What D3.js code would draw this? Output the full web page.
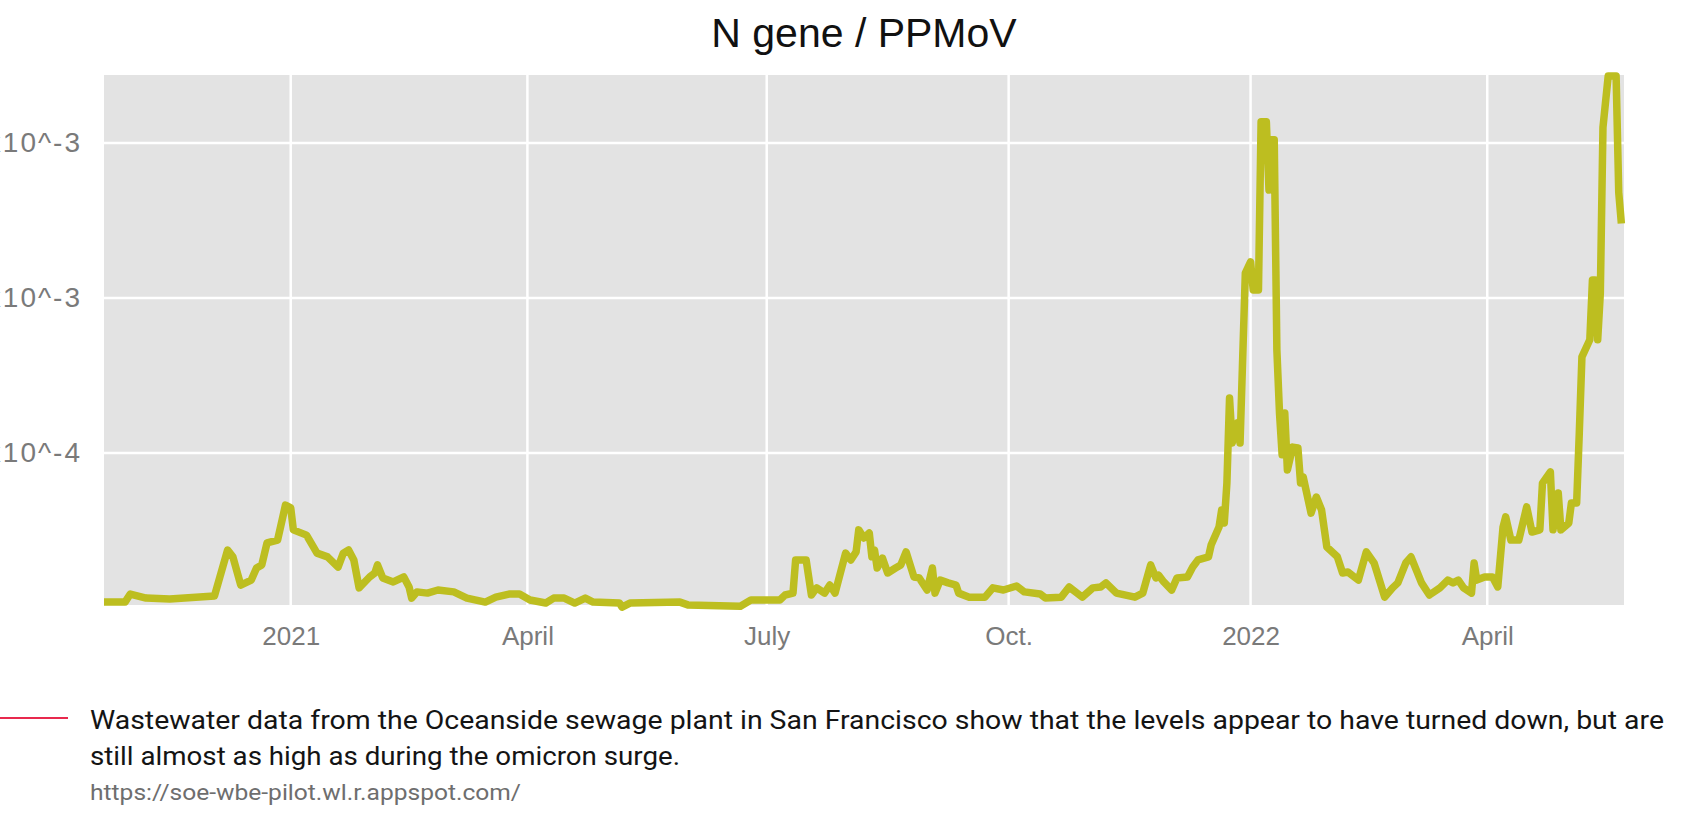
<!DOCTYPE html>
<html>
<head>
<meta charset="utf-8">
<script src="https://cdn.jsdelivr.net/npm/d3@7"></script>
<style>
  body { margin: 0; background: #fff; }
  svg { display: block; }
</style>
</head>
<body>
<div id="chart"></div>
<script>
// N gene / PPMoV, values in units of 1e-4
const dates = [
  '2020-10-22', '2020-10-30', '2020-11-01', '2020-11-07', '2020-11-16', '2020-12-03', '2020-12-08', '2020-12-10',
  '2020-12-13', '2020-12-17', '2020-12-19', '2020-12-21', '2020-12-23', '2020-12-27', '2020-12-29', '2020-12-30',
  '2021-01-01', '2021-01-02', '2021-01-07', '2021-01-11', '2021-01-15', '2021-01-19', '2021-01-21', '2021-01-23',
  '2021-01-25', '2021-01-27', '2021-01-31', '2021-02-02', '2021-02-03', '2021-02-05', '2021-02-09', '2021-02-13',
  '2021-02-15', '2021-02-16', '2021-02-18', '2021-02-22', '2021-02-26', '2021-03-04', '2021-03-09', '2021-03-16',
  '2021-03-20', '2021-03-25', '2021-03-29', '2021-04-02', '2021-04-08', '2021-04-11', '2021-04-15', '2021-04-19',
  '2021-04-23', '2021-04-26', '2021-05-06', '2021-05-07', '2021-05-10', '2021-05-29', '2021-06-01', '2021-06-21',
  '2021-06-25', '2021-07-06', '2021-07-08', '2021-07-11', '2021-07-12', '2021-07-16', '2021-07-18', '2021-07-20',
  '2021-07-23', '2021-07-25', '2021-07-27', '2021-07-31', '2021-08-02', '2021-08-04', '2021-08-05', '2021-08-07',
  '2021-08-09', '2021-08-10', '2021-08-11', '2021-08-12', '2021-08-14', '2021-08-16', '2021-08-19', '2021-08-21',
  '2021-08-23', '2021-08-26', '2021-08-28', '2021-08-31', '2021-09-02', '2021-09-03', '2021-09-05', '2021-09-08',
  '2021-09-11', '2021-09-12', '2021-09-16', '2021-09-22', '2021-09-25', '2021-09-29', '2021-10-04', '2021-10-07',
  '2021-10-13', '2021-10-15', '2021-10-21', '2021-10-24', '2021-10-29', '2021-11-02', '2021-11-05', '2021-11-07',
  '2021-11-11', '2021-11-18', '2021-11-21', '2021-11-24', '2021-11-26', '2021-11-27', '2021-11-29', '2021-12-02',
  '2021-12-04', '2021-12-08', '2021-12-10', '2021-12-12', '2021-12-16', '2021-12-17', '2021-12-20', '2021-12-21',
  '2021-12-22', '2021-12-23', '2021-12-24', '2021-12-25', '2021-12-27', '2021-12-28', '2021-12-30', '2022-01-01',
  '2022-01-02', '2022-01-04', '2022-01-05', '2022-01-07', '2022-01-08', '2022-01-09', '2022-01-10', '2022-01-11',
  '2022-01-12', '2022-01-13', '2022-01-14', '2022-01-15', '2022-01-17', '2022-01-19', '2022-01-20', '2022-01-21',
  '2022-01-24', '2022-01-26', '2022-01-28', '2022-01-30', '2022-02-03', '2022-02-05', '2022-02-07', '2022-02-11',
  '2022-02-14', '2022-02-17', '2022-02-21', '2022-02-24', '2022-02-26', '2022-03-01', '2022-03-03', '2022-03-05',
  '2022-03-07', '2022-03-10', '2022-03-14', '2022-03-17', '2022-03-19', '2022-03-21', '2022-03-23', '2022-03-26',
  '2022-03-27', '2022-03-28', '2022-03-31', '2022-04-03', '2022-04-05', '2022-04-07', '2022-04-08', '2022-04-10',
  '2022-04-13', '2022-04-16', '2022-04-18', '2022-04-21', '2022-04-22', '2022-04-25', '2022-04-26', '2022-04-28',
  '2022-04-29', '2022-05-02', '2022-05-03', '2022-05-05', '2022-05-06', '2022-05-07', '2022-05-10', '2022-05-11',
  '2022-05-12', '2022-05-13', '2022-05-14', '2022-05-15', '2022-05-17', '2022-05-20', '2022-05-21', '2022-05-22'
];
const values = [
  0.19, 0.19, 0.45, 0.32, 0.29, 0.39, 1.87, 1.65,
  0.74, 0.90, 1.29, 1.39, 2.10, 2.19, 2.94, 3.32,
  3.23, 2.52, 2.35, 1.77, 1.65, 1.32, 1.77, 1.87,
  1.55, 0.65, 1.00, 1.13, 1.39, 0.97, 0.84, 1.00,
  0.68, 0.32, 0.52, 0.48, 0.58, 0.52, 0.32, 0.19,
  0.35, 0.45, 0.45, 0.26, 0.16, 0.32, 0.32, 0.16,
  0.32, 0.19, 0.16, 0.03, 0.16, 0.19, 0.10, 0.06,
  0.26, 0.26, 0.42, 0.48, 1.55, 1.55, 0.42, 0.65,
  0.48, 0.74, 0.48, 1.77, 1.55, 1.81, 2.52, 2.26,
  2.42, 1.65, 1.87, 1.29, 1.61, 1.13, 1.29, 1.39,
  1.81, 1.00, 0.97, 0.58, 1.29, 0.48, 0.90, 0.81,
  0.74, 0.48, 0.35, 0.35, 0.65, 0.58, 0.71, 0.52,
  0.45, 0.32, 0.35, 0.68, 0.35, 0.65, 0.68, 0.81,
  0.48, 0.35, 0.48, 1.39, 0.97, 1.06, 0.84, 0.58,
  0.97, 1.00, 1.32, 1.55, 1.65, 2.03, 2.61, 3.16,
  2.74, 4.03, 6.77, 5.32, 5.97, 5.32, 10.8, 11.16,
  10.26, 10.26, 15.68, 15.68, 13.48, 15.1, 15.1, 8.32,
  6.29, 4.94, 6.29, 4.45, 5.19, 5.16, 4.03, 4.23,
  3.06, 3.58, 3.16, 1.97, 1.65, 1.13, 1.16, 0.90,
  1.81, 1.45, 0.35, 0.65, 0.81, 1.45, 1.65, 1.23,
  0.81, 0.42, 0.65, 0.90, 0.81, 0.90, 0.65, 0.48,
  1.45, 0.90, 1.00, 1.00, 0.68, 2.61, 2.94, 2.19,
  2.19, 3.26, 2.45, 2.52, 4.03, 4.39, 2.52, 3.71,
  2.52, 2.74, 3.39, 3.39, 5.65, 8.10, 8.65, 10.58,
  10.58, 8.65, 10.16, 15.5, 17.16, 17.16, 13.4, 12.4
];

const yTicks = [5, 10, 15];
const yTickLabels = ['5.0x10^-4', '1.0x10^-3', '1.5x10^-3'];
const xTicks = ['2021-01-01', '2021-04-01', '2021-07-01', '2021-10-01', '2022-01-01', '2022-04-01'];
const xTickLabels = ['2021', 'April', 'July', 'Oct.', '2022', 'April'];

const title = 'N gene / PPMoV';
const captionLines = [
  'Wastewater data from the Oceanside sewage plant in San Francisco show that the levels appear to have turned down, but are',
  'still almost as high as during the omicron surge.'
];
const source = 'https://soe-wbe-pilot.wl.r.appspot.com/';

const width = 1688;
const height = 832;
const panel = { left: 104, right: 1624, top: 75, bottom: 605 };

const parse = d3.timeParse('%Y-%m-%d');
const data = dates.map((d, i) => ({ date: parse(d), value: values[i] }));

const svg = d3.select('#chart').append('svg')
  .attr('width', width)
  .attr('height', height);

const x = d3.scaleTime()
  .domain([parse('2020-10-22'), parse('2022-05-23')])
  .range([panel.left, panel.right]);
const y = d3.scaleLinear()
  .domain([0.097, 17.19])
  .range([panel.bottom, panel.top]);

// panel background
svg.append('rect')
  .attr('x', panel.left)
  .attr('y', panel.top)
  .attr('width', panel.right - panel.left)
  .attr('height', panel.bottom - panel.top)
  .attr('fill', '#e3e3e3');

// grid
const grid = svg.append('g').attr('class', 'grid');
grid.selectAll('.gy').data(yTicks).enter().append('line')
  .attr('x1', panel.left).attr('x2', panel.right)
  .attr('y1', d => y(d)).attr('y2', d => y(d))
  .attr('stroke', '#fff').attr('stroke-width', 2.5);
grid.selectAll('.gx').data(xTicks).enter().append('line')
  .attr('x1', d => x(parse(d))).attr('x2', d => x(parse(d)))
  .attr('y1', panel.top).attr('y2', panel.bottom)
  .attr('stroke', '#fff').attr('stroke-width', 2.5);

// axes (labels only, ggplot style)
const yAxis = d3.axisLeft(y).tickValues(yTicks)
  .tickFormat((d, i) => yTickLabels[i]).tickSize(0).tickPadding(0);
svg.append('g')
  .attr('transform', 'translate(82,0)')
  .call(yAxis)
  .call(g => g.select('.domain').remove())
  .selectAll('text')
  .attr('font-family', 'Liberation Sans, Arial, sans-serif')
  .attr('font-size', 28)
  .attr('letter-spacing', 2)
  .attr('fill', '#7a7a7a');

const xAxis = d3.axisBottom(x).tickValues(xTicks.map(parse))
  .tickFormat((d, i) => xTickLabels[i]).tickSize(0).tickPadding(0);
svg.append('g')
  .attr('transform', `translate(0,${panel.bottom + 22})`)
  .call(xAxis)
  .call(g => g.select('.domain').remove())
  .selectAll('text')
  .attr('font-family', 'Liberation Sans, Arial, sans-serif')
  .attr('font-size', 26)
  .attr('fill', '#7a7a7a');

// the series
const line = d3.line()
  .x(d => x(d.date))
  .y(d => y(d.value));
svg.append('path')
  .datum(data)
  .attr('d', line)
  .attr('fill', 'none')
  .attr('stroke', '#bdbe20')
  .attr('stroke-width', 7.5)
  .attr('stroke-linejoin', 'round');

// title
svg.append('text')
  .attr('x', (panel.left + panel.right) / 2)
  .attr('y', 47)
  .attr('text-anchor', 'middle')
  .attr('font-family', 'Liberation Sans, Arial, sans-serif')
  .attr('font-size', 41)
  .attr('fill', '#111')
  .text(title);

// caption
svg.append('line')
  .attr('x1', 0).attr('x2', 68)
  .attr('y1', 718).attr('y2', 718)
  .attr('stroke', '#e8294d').attr('stroke-width', 2);

const capWidths = [1574, 590];
svg.selectAll('.cap').data(captionLines).enter().append('text')
  .attr('x', 90)
  .attr('y', (d, i) => 729 + i * 36)
  .attr('font-family', 'Roboto, sans-serif')
  .attr('font-size', 26)
  .attr('fill', '#141414')
  .attr('textLength', (d, i) => capWidths[i])
  .attr('lengthAdjust', 'spacingAndGlyphs')
  .text(d => d);

svg.append('text')
  .attr('x', 90)
  .attr('y', 800)
  .attr('font-family', 'Roboto, sans-serif')
  .attr('font-size', 22)
  .attr('fill', '#6e6e6e')
  .attr('textLength', 431)
  .attr('lengthAdjust', 'spacingAndGlyphs')
  .text(source);
</script>
</body>
</html>
